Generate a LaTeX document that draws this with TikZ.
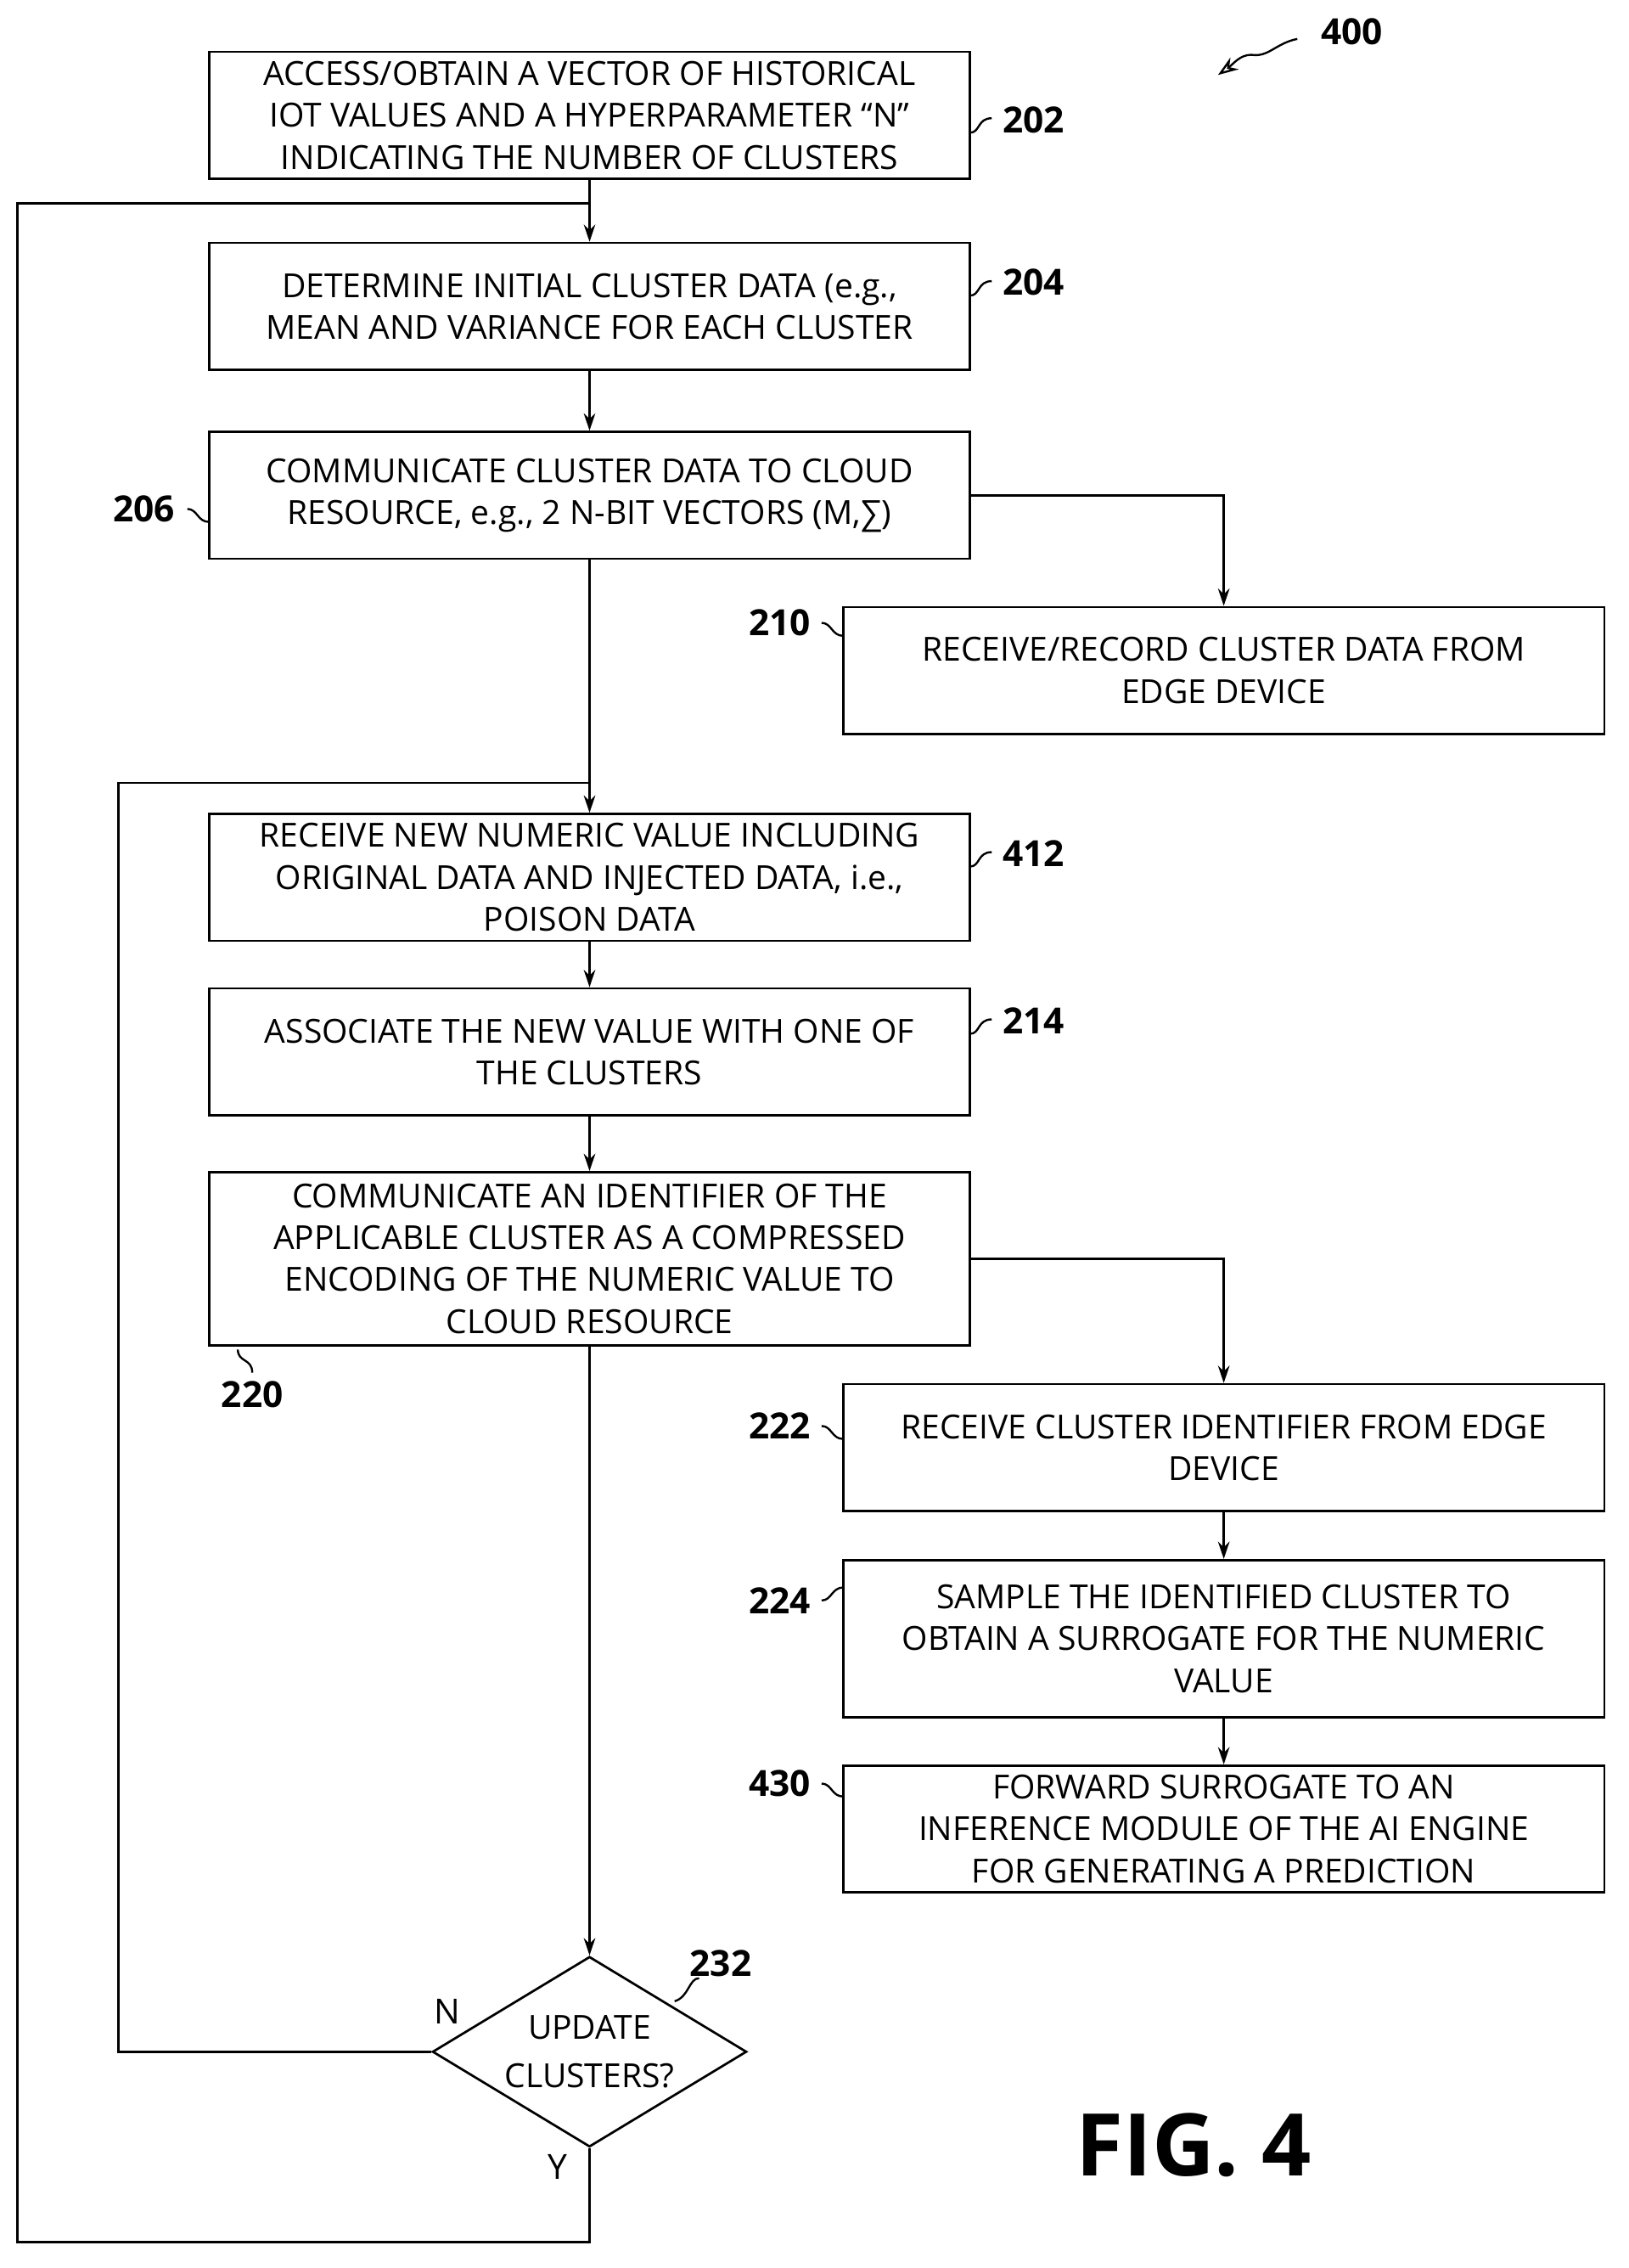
\documentclass[tikz,border=0pt]{standalone}
\usepackage{fontspec}
\setmainfont{Open Sans}
\usetikzlibrary{shapes.geometric,arrows.meta}
\begin{document}
\begin{tikzpicture}[x=0.5pt,y=-0.5pt,
 box/.style={draw,line width=0.8pt,minimum width=264pt,minimum height=44pt,align=center,inner sep=1pt,font=\fontsize{11.5}{14.5}\selectfont},
 ln/.style={line width=0.8pt},
 ar/.style={ln,-{Stealth[length=6pt,width=4pt]}},
 lab/.style={font=\bfseries\fontsize{12.5}{14}\selectfont},
 sq/.style={line width=0.7pt}]
\useasboundingbox (0,0) rectangle (1130,1573);
\node[box] (b202) at (409,80) {ACCESS/OBTAIN A VECTOR OF HISTORICAL\\IOT VALUES AND A HYPERPARAMETER “N”\\INDICATING THE NUMBER OF CLUSTERS};
\node[box] (b204) at (409,212.5) {DETERMINE INITIAL CLUSTER DATA (e.g.,\\MEAN AND VARIANCE FOR EACH CLUSTER};
\node[box] (b206) at (409,343.5) {COMMUNICATE CLUSTER DATA TO CLOUD\\RESOURCE, e.g., 2 N-BIT VECTORS (M,∑)};
\node[box] (b210) at (849,465) {RECEIVE/RECORD CLUSTER DATA FROM\\EDGE DEVICE};
\node[box] (b412) at (409,608.5) {RECEIVE NEW NUMERIC VALUE INCLUDING\\ORIGINAL DATA AND INJECTED DATA, i.e.,\\POISON DATA};
\node[box] (b214) at (409,729.5) {ASSOCIATE THE NEW VALUE WITH ONE OF\\THE CLUSTERS};
\node[box,minimum height=60pt] (b218) at (409,873) {COMMUNICATE AN IDENTIFIER OF THE\\APPLICABLE CLUSTER AS A COMPRESSED\\ENCODING OF THE NUMERIC VALUE TO\\CLOUD RESOURCE};
\node[box] (b222) at (849,1004) {RECEIVE CLUSTER IDENTIFIER FROM EDGE\\DEVICE};
\node[box,minimum height=54.5pt] (b224) at (849,1136.5) {SAMPLE THE IDENTIFIED CLUSTER TO\\OBTAIN A SURROGATE FOR THE NUMERIC\\VALUE};
\node[box] (b430) at (849,1268.5) {FORWARD SURROGATE TO AN\\INFERENCE MODULE OF THE AI ENGINE\\FOR GENERATING A PREDICTION};
\node[draw,ln,diamond,aspect=1.65,minimum width=109pt,minimum height=66pt,inner sep=0pt,align=center,font=\fontsize{11.5}{17}\selectfont] (d) at (409,1423) {UPDATE\\CLUSTERS?};
\coordinate (j1) at (409,141);
\coordinate (j2) at (409,543);
\coordinate (c1) at (12,141);
\coordinate (c2) at (12,1555);
\coordinate (c3) at (409,1555);
\coordinate (n1) at (82,1423);
\coordinate (n2) at (82,543);
\draw[ar] (b202) -- (b204);
\draw[ar] (b204) -- (b206);
\draw[ar] (b206) -- (b412);
\draw[ar] (b206.east) -| (b210.north);
\draw[ar] (b412) -- (b214);
\draw[ar] (b214) -- (b218);
\draw[ar] (b218.east) -| (b222.north);
\draw[ar] (b218) -- (d);
\draw[ar] (b222) -- (b224);
\draw[ar] (b224) -- (b430);
\draw[ln] (d.south) -- (c3) -- (c2) -- (c1) -- (j1);
\draw[ln] (d.west) -- (n1) -- (n2) -- (j2);
\node[font=\fontsize{12}{14}\selectfont] (lN) at (310,1395) {N};
\node[font=\fontsize{12}{14}\selectfont] (lY) at (387,1503) {Y};
\node[lab] (l202) at (717,83) {202};
\draw[sq] (673,92) .. controls (680,92) and (678,82) .. (688,82);
\node[lab] (l204) at (717,196) {204};
\draw[sq] (673,205) .. controls (680,205) and (678,195) .. (688,195);
\node[lab] (l412) at (717,592) {412};
\draw[sq] (673,601) .. controls (680,601) and (678,591) .. (688,591);
\node[lab] (l214) at (717,708) {214};
\draw[sq] (673,717) .. controls (680,717) and (678,707) .. (688,707);
\node[lab] (l206) at (100,353) {206};
\draw[sq] (130,353) .. controls (137,353) and (137,362) .. (145,362);
\node[lab] (l210) at (541,432) {210};
\draw[sq] (570,432) .. controls (577,432) and (577,441) .. (585,441);
\node[lab] (l222) at (541,989) {222};
\draw[sq] (570,989) .. controls (577,989) and (577,998) .. (585,998);
\node[lab] (l224) at (541,1110) {224};
\draw[sq] (570,1110) .. controls (577,1110) and (577,1101) .. (585,1101);
\node[lab] (l430) at (541,1237) {430};
\draw[sq] (570,1237) .. controls (577,1237) and (577,1246) .. (585,1246);
\node[lab] (l220) at (175,967) {220};
\draw[sq] (165,936) .. controls (165,945) and (175,942) .. (175,952);
\node[lab] (l232) at (500,1362) {232};
\draw[sq] (485,1372) .. controls (478,1372) and (478,1385) .. (468,1388);
\node[lab] (l400) at (938,22) {400};
\draw[sq,-{Stealth[length=7pt,width=5pt,open]}] (900,27) .. controls (885,30) and (880,40) .. (868,38) .. controls (860,38) and (855,45) .. (845,52);
\node[font=\bfseries\fontsize{30}{32}\selectfont] (fig) at (828,1488) {FIG. 4};
\end{tikzpicture}
\end{document}
